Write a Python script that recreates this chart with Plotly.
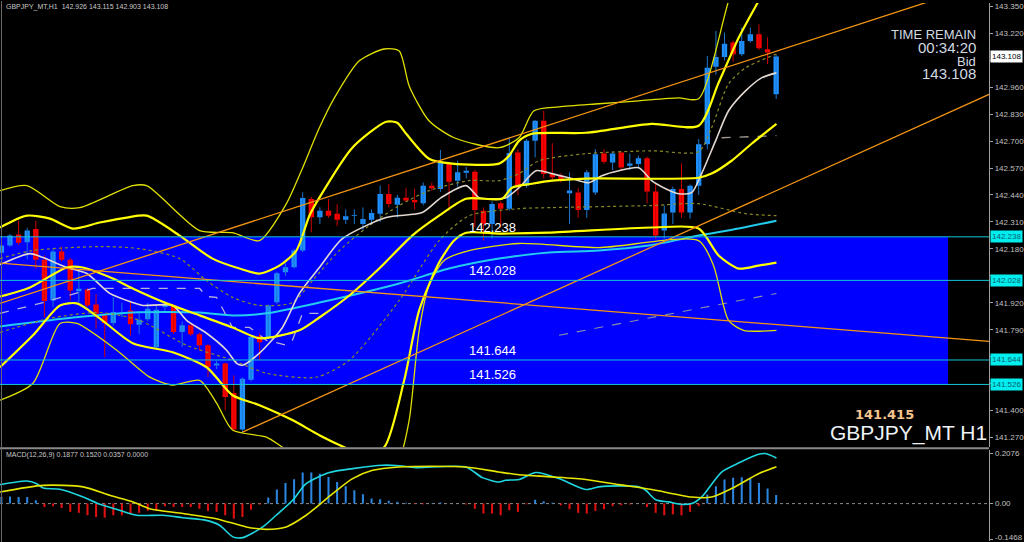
import plotly.graph_objects as go

# ---------------- candle data (bar index 0..90, H1) ----------------
opens = [142.161, 142.196, 142.249, 142.212, 142.276, 142.127, 141.931, 142.167, 142.127, 141.976,
         141.984, 141.912, 141.864, 141.822, 141.866, 141.883, 141.814, 141.840, 141.706, 141.899,
         141.907, 141.779, 141.811, 141.768, 141.715, 141.618, 141.627, 141.485, 141.309, 141.549,
         141.759, 141.754, 141.923, 142.067, 142.091, 142.172, 142.421, 142.332, 142.364, 142.349,
         142.321, 142.338, 142.300, 142.320, 142.349, 142.445, 142.393, 142.426, 142.416, 142.400,
         142.485, 142.469, 142.589, 142.509, 142.547, 142.552, 142.364, 142.300, 142.400, 142.373,
         142.645, 142.485, 142.701, 142.798, 142.541, 142.533, 142.448, 142.452, 142.368, 142.452,
         142.640, 142.597, 142.645, 142.581, 142.589, 142.617, 142.457, 142.268, 142.356, 142.469,
         142.356, 142.485, 142.685, 143.058, 143.106, 143.175, 143.119, 143.183, 143.215, 143.143,
         142.926]
highs = [142.205, 142.252, 142.316, 142.281, 142.316, 142.148, 142.180, 142.191, 142.135, 142.076,
         141.990, 141.962, 141.870, 141.947, 141.920, 141.923, 141.880, 141.920, 141.907, 141.920,
         141.912, 141.830, 141.822, 141.775, 141.720, 141.640, 141.632, 141.570, 141.560, 141.762,
         141.770, 141.912, 142.070, 142.110, 142.180, 142.453, 142.430, 142.380, 142.421, 142.395,
         142.370, 142.370, 142.380, 142.370, 142.485, 142.493, 142.440, 142.473, 142.470, 142.500,
         142.500, 142.657, 142.600, 142.605, 142.575, 142.560, 142.380, 142.410, 142.410, 142.717,
         142.660, 142.710, 142.800, 142.846, 142.690, 142.545, 142.549, 142.475, 142.560, 142.661,
         142.660, 142.650, 142.650, 142.640, 142.630, 142.625, 142.500, 142.390, 142.480, 142.592,
         142.490, 142.710, 143.111, 143.231, 143.223, 143.185, 143.247, 143.247, 143.263, 143.200,
         143.115]
lows = [142.150, 142.190, 142.200, 142.130, 142.085, 141.850, 141.899, 142.120, 141.931, 141.923,
        141.900, 141.795, 141.658, 141.810, 141.850, 141.763, 141.770, 141.830, 141.700, 141.870,
        141.770, 141.706, 141.760, 141.690, 141.562, 141.600, 141.401, 141.300, 141.290, 141.540,
        141.642, 141.745, 141.915, 142.050, 142.085, 142.165, 142.260, 142.300, 142.330, 142.290,
        142.300, 142.300, 142.270, 142.300, 142.310, 142.380, 142.330, 142.405, 142.370, 142.390,
        142.460, 142.455, 142.364, 142.480, 142.520, 142.284, 142.220, 142.230, 142.284, 142.365,
        142.440, 142.475, 142.621, 142.520, 142.515, 142.500, 142.300, 142.330, 142.330, 142.440,
        142.590, 142.560, 142.560, 142.560, 142.570, 142.400, 142.230, 142.230, 142.300, 142.330,
        142.326, 142.440, 142.660, 143.020, 143.090, 143.082, 143.110, 143.175, 143.140, 143.071,
        142.903]
closes = [142.196, 142.244, 142.209, 142.268, 142.127, 141.928, 142.167, 142.127, 141.979, 141.988,
          141.907, 141.867, 141.822, 141.875, 141.872, 141.816, 141.838, 141.891, 141.886, 141.910,
          141.779, 141.811, 141.768, 141.715, 141.610, 141.627, 141.466, 141.309, 141.554, 141.755,
          141.730, 141.907, 142.062, 142.091, 142.172, 142.425, 142.332, 142.364, 142.340, 142.321,
          142.337, 142.342, 142.324, 142.353, 142.445, 142.397, 142.426, 142.413, 142.405, 142.485,
          142.472, 142.597, 142.504, 142.549, 142.557, 142.368, 142.300, 142.397, 142.373, 142.642,
          142.485, 142.701, 142.798, 142.541, 142.525, 142.509, 142.461, 142.368, 142.549, 142.637,
          142.600, 142.640, 142.573, 142.592, 142.617, 142.457, 142.244, 142.351, 142.469, 142.356,
          142.485, 142.685, 143.054, 143.106, 143.170, 143.119, 143.183, 143.215, 143.148, 143.127,
          143.108]

# ---------------- indicator lines (bar index, price) ----------------
bb3_up_x = [-0.16, 2.97, 6.8, 9.11, 15.26, 16.88, 23.03, 26.85, 29.98, 33.11, 34.85, 36.94, 38.68, 41.58,
            44.47, 46.21, 47.37, 49.67, 52.59, 57.81, 60.13, 61.86, 64.78, 69.4, 74.04, 78.67, 80.99,
            84.47, 87.0, 90.03]
bb3_up_y = [142.461, 142.485, 142.384, 142.379, 142.485, 142.485, 142.268, 142.258, 142.220, 142.398,
            142.557, 142.764, 142.908, 143.087, 143.144, 143.135, 142.966, 142.798, 142.716, 142.668,
            142.716, 142.846, 142.865, 142.880, 142.894, 142.908, 142.904, 143.376, 143.70, 144.0]
bb2_up_x = [-0.16, 2.97, 5.64, 8.3, 11.43, 14.56, 16.88, 20.71, 24.53, 27.66, 29.98, 32.3, 34.27, 35.78,
            36.94, 40.77, 44.7, 45.98, 47.02, 49.67, 52.36, 57.81, 58.97, 60.13, 61.63, 67.89, 75.54,
            80.99, 83.31, 85.63, 87.95, 90.03]
bb2_up_y = [142.283, 142.340, 142.326, 142.278, 142.307, 142.331, 142.340, 142.244, 142.133, 142.085,
            142.061, 142.099, 142.172, 142.340, 142.427, 142.668, 142.793, 142.788, 142.735, 142.615,
            142.591, 142.591, 142.629, 142.701, 142.735, 142.740, 142.783, 142.774, 142.981, 143.197,
            143.376, 143.55]
bb_mid_x = [-0.16, 3.32, 7.61, 9.46, 12.94, 15.26, 19.2, 23.03, 26.85, 29.98, 34.62, 36.94, 40.42, 43.89,
            47.72, 50.85, 53.98, 58.15, 59.31, 61.63, 63.95, 67.89, 80.99, 82.5, 84.82, 87.14, 90.03]
bb_mid_y = [141.950, 141.994, 142.090, 142.090, 142.037, 141.989, 141.917, 141.859, 141.801, 141.749,
            141.787, 141.849, 141.955, 142.085, 142.244, 142.340, 142.422, 142.422, 142.475, 142.494,
            142.509, 142.519, 142.523, 142.543, 142.605, 142.687, 142.783]
bb2_dn_x = [-0.16, 3.67, 6.8, 8.77, 11.43, 15.26, 19.9, 23.84, 26.85, 29.98, 33.81, 36.94, 39.84, 42.16,
            44.47, 46.79, 48.53, 50.85, 52.59, 53.98, 57.81, 63.6, 75.54, 80.99, 83.31, 85.63, 87.95, 90.03]
bb2_dn_y = [141.609, 141.763, 141.907, 141.917, 141.845, 141.725, 141.681, 141.609, 141.474, 141.426,
            141.354, 141.281, 141.223, 141.185, 141.223, 141.546, 141.883, 142.114, 142.220, 142.258,
            142.254, 142.258, 142.283, 142.278, 142.148, 142.085, 142.099, 142.114]
bb3_dn_x = [-0.16, 3.67, 6.8, 8.77, 13.4, 17.23, 19.9, 23.03, 25.0, 26.85, 30.79, 32.65, 36.94, 43.89,
            46.21, 47.37, 48.53, 49.67, 51.43, 54.33, 60.13, 69.4, 80.99, 82.73, 84.47, 86.21, 90.03]
bb3_dn_y = [141.450, 141.532, 141.820, 141.820, 141.691, 141.561, 141.523, 141.546, 141.436, 141.306,
            141.272, 141.223, 141.113, 141.016, 141.161, 141.354, 141.787, 142.003, 142.124, 142.172,
            142.206, 142.186, 142.220, 142.099, 141.835, 141.787, 141.787]
bb1_up_x = [-0.16, 3.67, 11.43, 16.07, 20.71, 23.84, 26.85, 29.98, 33.81, 36.13, 39.26, 42.73, 46.21,
            49.69, 54.33, 57.81, 60.13, 62.44, 67.89, 75.54, 80.99, 82.5, 84.47, 86.44, 90.03]
bb1_up_y = [142.133, 142.172, 142.191, 142.181, 142.133, 142.027, 141.946, 141.907, 141.921, 142.027,
            142.172, 142.292, 142.389, 142.461, 142.509, 142.509, 142.543, 142.605, 142.639, 142.653,
            142.649, 142.764, 142.976, 143.053, 143.120]
bb1_dn_x = [-0.16, 5.64, 11.43, 16.07, 21.52, 26.85, 30.79, 36.59, 40.42, 46.21, 50.85, 54.33, 60.13,
            63.95, 75.54, 80.99, 86.44, 90.03]
bb1_dn_y = [141.777, 141.845, 141.873, 141.835, 141.715, 141.643, 141.580, 141.561, 141.643, 141.931,
            142.220, 142.340, 142.374, 142.379, 142.389, 142.398, 142.350, 142.340]
ma_fast_x = [-0.16, 3.32, 4.83, 7.61, 9.93, 12.59, 15.26, 16.42, 19.9, 21.52, 23.84, 26.16, 27.32, 28.01,
             29.98, 32.65, 34.62, 36.94, 39.61, 44.7, 48.88, 51.08, 53.98, 55.49, 56.99, 58.62, 60.13,
             62.1, 63.95, 66.27, 68.24, 69.75, 71.72, 74.04, 75.54, 77.16, 78.67, 80.18, 81.34, 82.96,
             84.47, 86.44, 88.3, 90.03]
ma_fast_y = [142.104, 142.157, 142.138, 142.090, 142.061, 141.965, 141.921, 141.907, 141.907, 141.835,
             141.773, 141.691, 141.628, 141.619, 141.677, 141.801, 141.965, 142.090, 142.229, 142.331,
             142.355, 142.427, 142.485, 142.427, 142.422, 142.427, 142.475, 142.557, 142.543, 142.519,
             142.499, 142.533, 142.557, 142.571, 142.509, 142.470, 142.446, 142.451, 142.543, 142.701,
             142.846, 142.942, 143.005, 143.029]
ma_slow_x = [-0.16, 7.61, 15.26, 23.03, 26.85, 30.79, 36.94, 46.21, 52.01, 57.81, 63.6, 69.4, 75.2,
             80.99, 85.63, 90.03]
ma_slow_y = [141.806, 141.845, 141.873, 141.873, 141.859, 141.869, 141.921, 142.013, 142.085, 142.133,
             142.162, 142.172, 142.196, 142.244, 142.278, 142.316]
kijun_x = [-0.16, 4.48, 10.62, 23.03, 23.84, 25.0, 26.85, 28.82, 30.79, 33.11, 33.81, 34.97, 36.94]
kijun_y = [141.869, 141.917, 141.989, 141.989, 141.950, 141.946, 141.801, 141.801, 141.739, 141.715,
           141.739, 141.869, 141.869]
kijun2_x = [83.66, 90.03]
kijun2_y = [142.716, 142.726]
span_x = [64.78, 90.03]
span_y = [141.763, 141.965]

# trend lines (anchor points: bar index, price)
tl_down_x = [-0.16, 114.73]
tl_down_y = [142.111, 141.734]
tl_up1_x = [-0.16, 114.73]
tl_up1_y = [141.917, 143.467]
tl_up2_x = [28.01, 114.73]
tl_up2_y = [141.296, 142.925]

# zone and levels
zone_top, zone_bottom, zone_right = 142.238, 141.526, 109.97
levels = [142.238, 142.028, 141.644, 141.526]
level_text_x = 57

# ---------------- MACD ----------------
macd_hist = [0.027, 0.029, 0.027, 0.027, 0.014, -0.014, -0.011, -0.018, -0.034, -0.038,
             -0.048, -0.055, -0.058, -0.048, -0.048, -0.044, -0.038, -0.030, -0.027, -0.011,
             -0.014, -0.014, -0.014, -0.021, -0.030, -0.034, -0.048, -0.062, -0.055, -0.025,
             -0.004, 0.025, 0.058, 0.085, 0.100, 0.128, 0.128, 0.123, 0.110, 0.089,
             0.071, 0.055, 0.038, 0.021, 0.018, 0.012, 0.008, 0.003, -0.002, -0.003,
             0.001, 0.005, 0.0005, 0.0005, -0.004, -0.021, -0.041, -0.041, -0.048, -0.027,
             -0.034, -0.003, 0.016, 0.010, 0.003, -0.007, -0.023, -0.038, -0.041, -0.030,
             -0.023, -0.011, -0.007, -0.004, 0.0005, -0.014, -0.038, -0.048, -0.044, -0.048,
             -0.034, -0.010, 0.037, 0.071, 0.099, 0.106, 0.108, 0.103, 0.085, 0.062,
             0.0357]
macd_x = [-0.16, 2.94, 4.1, 4.86, 6.8, 9.5, 11.43, 13.37, 15.69, 18.77, 21.09, 23.8, 25.35, 26.89, 28.05,
          30.37, 31.92, 33.84, 35.4, 38.1, 40.8, 44.28, 46.21, 48.15, 53.95, 55.87, 57.81, 58.58, 60.13,
          62.1, 64.76, 67.89, 69.4, 71.72, 74.04, 74.85, 76.0, 77.5, 79.02, 80.18, 81.34, 83.66, 85.63,
          87.95, 88.76, 90.03]
macd_y = [0.078, 0.093, 0.082, 0.064, 0.059, 0.027, -0.003, -0.023, -0.048, -0.048, -0.058, -0.069,
          -0.089, -0.137, -0.140, -0.096, -0.048, 0.014, 0.082, 0.128, 0.144, 0.158, 0.156, 0.148, 0.151,
          0.107, 0.089, 0.096, 0.099, 0.128, 0.103, 0.058, 0.069, 0.073, 0.069, 0.055, 0.016, 0.007,
          -0.003, 0.0, 0.027, 0.130, 0.167, 0.203, 0.206, 0.1877]
signal_x = [-0.16, 4.86, 9.5, 12.59, 15.29, 17.23, 21.09, 24.96, 28.44, 30.76, 33.08, 35.4, 38.48, 40.8,
            43.12, 46.21, 50.07, 53.95, 57.81, 60.13, 63.95, 67.89, 71.72, 75.54, 80.18, 82.5, 84.82,
            87.95, 90.03]
signal_y = [0.048, 0.075, 0.069, 0.034, 0.007, -0.021, -0.041, -0.062, -0.096, -0.106, -0.096, -0.048,
            0.041, 0.103, 0.137, 0.151, 0.154, 0.151, 0.130, 0.119, 0.110, 0.099, 0.078, 0.058, 0.027,
            0.027, 0.062, 0.123, 0.152]
macd_ticks = [0.2076, 0.0, -0.1468]
macd_tick_text = ["0.2076", "0.00", "-0.1468"]

price_ticks = [143.350 - 0.130 * k for k in range(17)]
hidden_ticks = {143.090, 142.050, 141.660, 141.530}

# ---------------- figure ----------------
W, H = 1024, 542
X_RANGE = [-0.16, 114.73]
XD = [0, 991 / W]
BULL, BEAR = "#1e90ff", "#ff0000"
FONT = "Liberation Sans"

fig = go.Figure()

n = len(opens)
bull = [i for i in range(n) if closes[i] >= opens[i]]
bear = [i for i in range(n) if closes[i] < opens[i]]

for group, body_c, wick_c in ((bull, BULL, "#1b78d0"), (bear, BEAR, "#d00000")):
    wx, wy = [], []
    for i in group:
        wx += [i, i, None]
        wy += [lows[i], highs[i], None]
    fig.add_trace(go.Scatter(x=wx, y=wy, mode="lines", line=dict(color=wick_c, width=1),
                             hoverinfo="skip", showlegend=False))
    fig.add_trace(go.Bar(x=group,
                         base=[min(opens[i], closes[i]) for i in group],
                         y=[max(abs(closes[i] - opens[i]), 0.004) for i in group],
                         width=0.62, marker=dict(color=body_c, line=dict(width=0)),
                         showlegend=False, hoverinfo="skip"))


def line(x, y, color, width, dash="solid", ax=("x", "y"), shape="spline"):
    fig.add_trace(go.Scatter(x=x, y=y, mode="lines", xaxis=ax[0], yaxis=ax[1],
                             line=dict(color=color, width=width, dash=dash, shape=shape,
                                       smoothing=0.7 if shape == "spline" else None),
                             hoverinfo="skip", showlegend=False))


line(kijun_x, kijun_y, "#b8b0d8", 1.3, "dash", shape="linear")
line(kijun2_x, kijun2_y, "#a09890", 1.3, "dash", shape="linear")
line(span_x, span_y, "#8890a8", 1.1, "dash", shape="linear")
line(ma_slow_x, ma_slow_y, "#22ccee", 2)
line(bb1_up_x, bb1_up_y, "#8a8a28", 1.2, "dot")
line(bb1_dn_x, bb1_dn_y, "#8a8a28", 1.2, "dot")
line(ma_fast_x, ma_fast_y, "#e2d8d2", 1.6)
line(bb3_up_x, bb3_up_y, "#e0e000", 1.3)
line(bb3_dn_x, bb3_dn_y, "#e0e000", 1.3)
line(bb2_up_x, bb2_up_y, "#ffff00", 2.2)
line(bb_mid_x, bb_mid_y, "#ffff00", 2.2)
line(bb2_dn_x, bb2_dn_y, "#ffff00", 2.2)
for tx, ty in ((tl_down_x, tl_down_y), (tl_up1_x, tl_up1_y), (tl_up2_x, tl_up2_y)):
    line(tx, ty, "#f39512", 1.3, shape="linear")

# MACD panel
hist_c = ["#2a85e0" if v >= 0 else "#e01010" for v in macd_hist]
fig.add_trace(go.Bar(x=list(range(n)), y=macd_hist, width=0.24, xaxis="x2", yaxis="y2",
                     marker=dict(color=hist_c, line=dict(width=0)), showlegend=False, hoverinfo="skip"))
line(macd_x, macd_y, "#1fd6e0", 1.6, ax=("x2", "y2"))
line(signal_x, signal_y, "#e6e600", 1.6, ax=("x2", "y2"))

shapes = [
    dict(type="rect", xref="x", yref="y", x0=X_RANGE[0], x1=zone_right, y0=zone_bottom, y1=zone_top,
         fillcolor="#0000ff", line=dict(width=0), layer="below"),
    dict(type="line", xref="x2", yref="y2", x0=X_RANGE[0], x1=X_RANGE[1], y0=0, y1=0,
         line=dict(color="#8a8a8a", width=1, dash="dot"), layer="below"),
    dict(type="line", xref="paper", yref="paper", x0=0, x1=XD[1], y0=1 - 448 / H, y1=1 - 448 / H,
         line=dict(color="#8a8a8a", width=2)),
    dict(type="line", xref="paper", yref="paper", x0=1.5 / W, x1=1.5 / W, y0=0, y1=1,
         line=dict(color="#6a6a6a", width=1)),
]
for lv in levels:
    shapes.append(dict(type="line", xref="x", yref="y", x0=X_RANGE[0], x1=X_RANGE[1], y0=lv, y1=lv,
                       line=dict(color="#12c6d6", width=1), layer="above"))

axis_font = dict(family=FONT, size=8, color="#c0c0c0")

ann = []
for lv in levels:
    ann.append(dict(x=level_text_x, y=lv, xref="x", yref="y", text=f"{lv:.3f}", showarrow=False,
                    xanchor="center", yanchor="bottom", yshift=0,
                    font=dict(family=FONT, size=13, color="#ffffff")))
    ann.append(dict(x=992 / W, y=lv, xref="paper", yref="y", text=f"{lv:.3f}", showarrow=False,
                    xanchor="left", yanchor="middle", bgcolor="#00eeee", borderpad=1,
                    font=dict(family=FONT, size=8, color="#0b5c70")))
ann.append(dict(x=992 / W, y=closes[-1], xref="paper", yref="y", text=f"{closes[-1]:.3f}",
                showarrow=False, xanchor="left", yanchor="middle", bgcolor="#ffffff", borderpad=1,
                font=dict(family=FONT, size=8, color="#000000")))
# MACD scale labels (the lowest one sits at the very bottom edge of the window)
for v, t in zip(macd_ticks, macd_tick_text):
    ann.append(dict(x=995 / W, y=v, xref="paper", yref="y2", text=t, showarrow=False,
                    xanchor="left", yanchor="middle", yshift=2 if v < 0 else 0, font=axis_font))

hdr = f"GBPJPY_MT,H1  {opens[-1]:.3f} {highs[-1]:.3f} {lows[-1]:.3f} {closes[-1]:.3f}"
ann.append(dict(x=4 / W, y=1 - 6.5 / H, xref="paper", yref="paper", text=hdr, showarrow=False,
                xanchor="left", yanchor="middle",
                font=dict(family=FONT, size=7, color="#c8c8c8")))
ann.append(dict(x=4 / W, y=1 - 454.5 / H, xref="paper", yref="paper",
                text="MACD(12,26,9) 0.1877 0.1520 0.0357 0.0000", showarrow=False,
                xanchor="left", yanchor="middle",
                font=dict(family=FONT, size=7, color="#c8c8c8")))
txt_c = "#d2dae2"
for label, yc, sz in (("TIME REMAIN", 34, 13), ("00:34:20", 46.5, 15),
                      ("Bid", 60.5, 13), (f"{closes[-1]:.3f}", 73, 15)):
    ann.append(dict(x=980 / W, y=1 - yc / H, xref="paper", yref="paper", text=label, showarrow=False,
                    xanchor="right", yanchor="middle", font=dict(family=FONT, size=sz, color=txt_c)))
ann.append(dict(x=886 / W, y=1 - 414 / H, xref="paper", yref="paper", text="141.415", showarrow=False,
                xanchor="center", yanchor="middle",
                font=dict(family="DejaVu Sans", size=13, color="#f6c48c", weight="bold")))
ann.append(dict(x=991 / W, y=1 - 432.5 / H, xref="paper", yref="paper", text="GBPJPY_MT H1",
                showarrow=False, xanchor="right", yanchor="middle",
                font=dict(family=FONT, size=21, color="#eef2f6")))

fig.update_layout(
    width=W, height=H, margin=dict(l=0, r=0, t=0, b=0),
    paper_bgcolor="#000000", plot_bgcolor="#000000",
    barmode="overlay", showlegend=False, hovermode=False,
    shapes=shapes, annotations=ann,
    xaxis=dict(domain=XD, range=X_RANGE, visible=False, anchor="y"),
    yaxis=dict(domain=[1 - 447 / H, 1 - 2 / H], range=[141.2234, 143.366], side="right", anchor="x",
               tickvals=price_ticks,
               ticktext=["" if round(v, 3) in hidden_ticks else f"{v:.3f}" for v in price_ticks],
               ticks="outside", ticklen=3, tickcolor="#a0a0a0", showline=True, linecolor="#a0a0a0",
               linewidth=1, showgrid=False, zeroline=False, tickfont=axis_font),
    xaxis2=dict(domain=XD, range=X_RANGE, visible=False, anchor="y2"),
    yaxis2=dict(domain=[1 / H, 1 - 450 / H], range=[-0.154, 0.220], side="right", anchor="x2",
                tickvals=macd_ticks, ticktext=["", "", ""],
                ticks="outside", ticklen=3, tickcolor="#a0a0a0", showline=True, linecolor="#a0a0a0",
                linewidth=1, showgrid=False, zeroline=False, tickfont=axis_font),
)

fig.write_html("out.html", config={"displayModeBar": False, "staticPlot": True},
               post_script="document.body.style.margin='0px';document.body.style.overflow='hidden';")
